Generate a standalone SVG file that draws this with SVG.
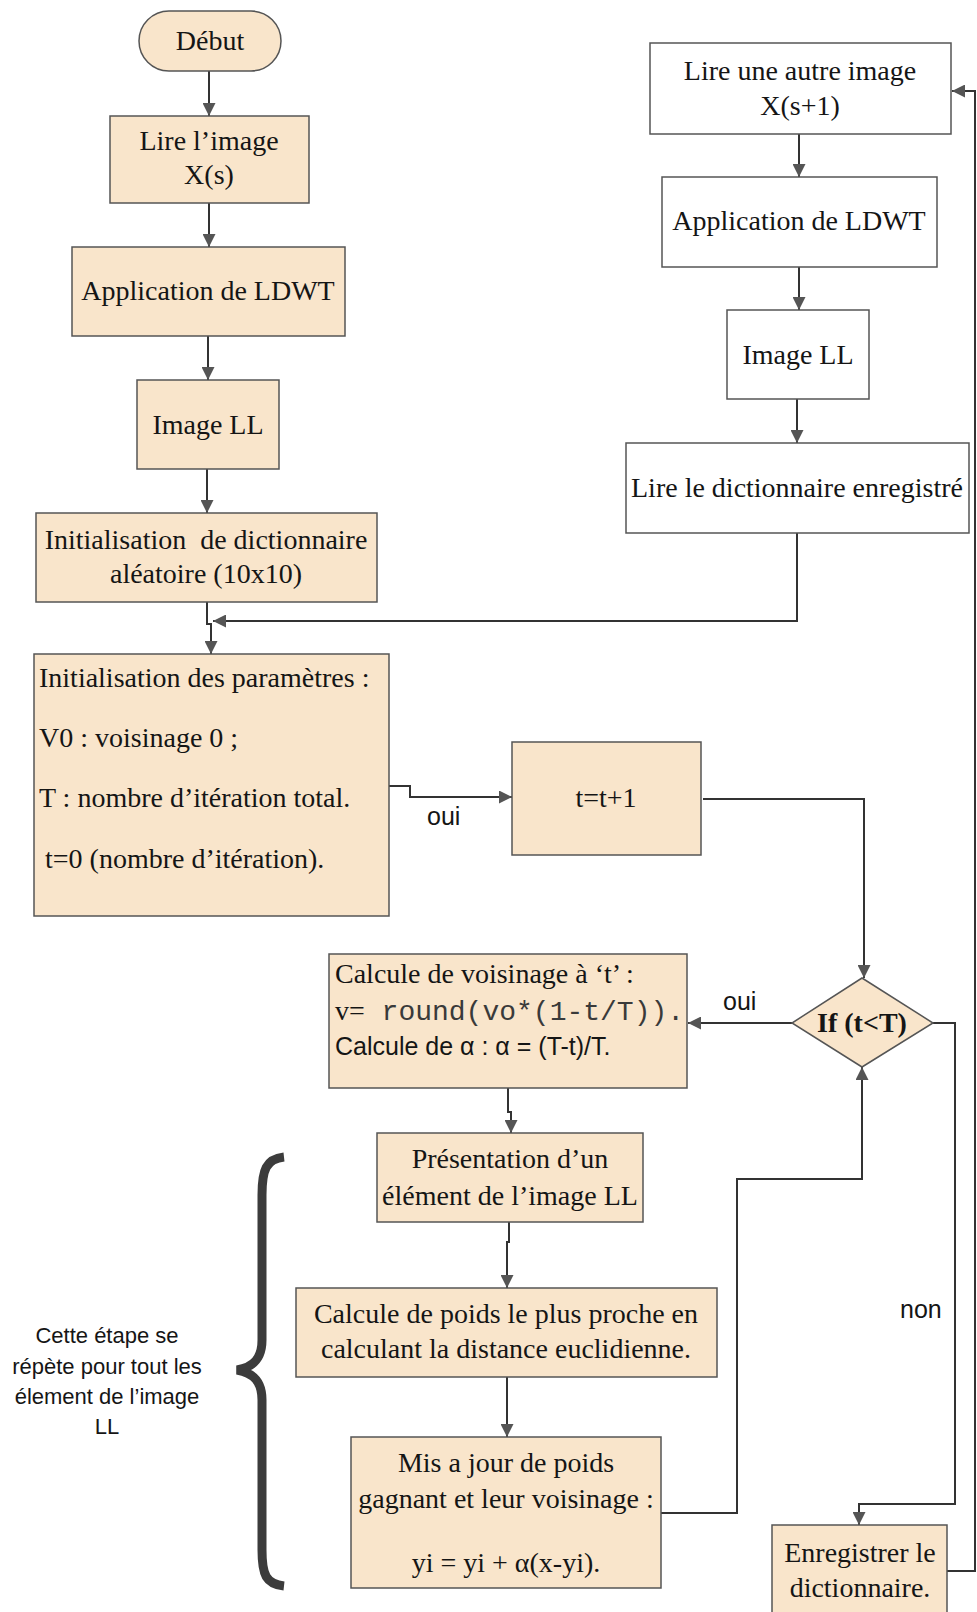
<svg xmlns="http://www.w3.org/2000/svg" width="977" height="1612" viewBox="0 0 977 1612">
  <defs>
    <marker id="arrow" viewBox="0 0 13 13" refX="13" refY="6.5" markerWidth="13" markerHeight="13" markerUnits="userSpaceOnUse" orient="auto">
      <path d="M0,0 L13,6.5 L0,13 Z" fill="#555"/>
    </marker>
    <style>
      .box { fill: #f9e5cb; stroke: #555; stroke-width: 1.5; }
      .wbox { fill: #ffffff; stroke: #555; stroke-width: 1.5; }
      .t { font-family: "Liberation Serif", "Times New Roman", serif; font-size: 28px; fill: #151515; }
      .c { text-anchor: middle; }
      .b { font-weight: bold; }
      .mono { font-family: "Liberation Mono", "Courier New", monospace; font-size: 28px; fill: #3a3a3a; }
      .sans { font-family: "Liberation Sans", Arial, sans-serif; fill: #151515; }
      .conn { fill: none; stroke: #333; stroke-width: 2; }
      .arr { marker-end: url(#arrow); }
    </style>
  </defs>

  <rect width="977" height="1612" fill="#ffffff"/>

  <!-- connectors -->
  <g id="connectors">
    <path class="conn arr" d="M209,71 V116"/>
    <path class="conn arr" d="M209,203 V247"/>
    <path class="conn arr" d="M208,336 V380"/>
    <path class="conn arr" d="M207,469 V513"/>
    <path class="conn arr" d="M207,602 V624 H211 V654"/>
    <path class="conn arr" d="M797,533 V621 H213"/>
    <path class="conn arr" d="M799,134 V177"/>
    <path class="conn arr" d="M799,267 V310"/>
    <path class="conn arr" d="M797,399 V443"/>
    <path class="conn arr" d="M389,786 H410 V797 H512"/>
    <path class="conn arr" d="M703,799 H864 V978"/>
    <path class="conn arr" d="M792,1023 H688"/>
    <path class="conn arr" d="M933,1023 H955 V1504 H859 V1525"/>
    <path class="conn arr" d="M508,1088 V1112 H511 V1133"/>
    <path class="conn arr" d="M509,1222 V1242 H507 V1288"/>
    <path class="conn arr" d="M507,1377 V1437"/>
    <path class="conn arr" d="M661,1513 H737 V1179 H862 V1067"/>
    <path class="conn arr" d="M947,1571 H975 V91 H952"/>
  </g>

  <!-- edge labels -->
  <g id="labels">
    <text class="sans" x="427" y="825" font-size="25">oui</text>
    <text class="sans" x="723" y="1010" font-size="25">oui</text>
    <text class="sans" x="900" y="1318" font-size="25">non</text>
  </g>

  <!-- left column -->
  <g id="debut">
    <rect class="box" x="139" y="11" width="142" height="60" rx="30" ry="30"/>
    <text class="t c" x="210" y="50">Début</text>
  </g>
  <g id="lire-image">
    <rect class="box" x="110" y="116" width="199" height="87"/>
    <text class="t c" x="209" y="150">Lire l’image</text>
    <text class="t c" x="209" y="184">X(s)</text>
  </g>
  <g id="ldwt-1">
    <rect class="box" x="72" y="247" width="273" height="89"/>
    <text class="t c" x="208" y="300">Application de LDWT</text>
  </g>
  <g id="image-ll-1">
    <rect class="box" x="137" y="380" width="142" height="89"/>
    <text class="t c" x="208" y="434">Image LL</text>
  </g>
  <g id="init-dict">
    <rect class="box" x="36" y="513" width="341" height="89"/>
    <text class="t c" x="206" y="549" style="white-space:pre">Initialisation  de dictionnaire</text>
    <text class="t c" x="206" y="583">aléatoire (10x10)</text>
  </g>
  <g id="init-params">
    <rect class="box" x="34" y="654" width="355" height="262"/>
    <text class="t" x="39" y="687">Initialisation des paramètres :</text>
    <text class="t" x="39" y="747">V0 : voisinage 0 ;</text>
    <text class="t" x="39" y="807">T : nombre d’itération total.</text>
    <text class="t" x="45" y="868">t=0 (nombre d’itération).</text>
  </g>

  <!-- right column -->
  <g id="lire-autre">
    <rect class="wbox" x="650" y="43" width="301" height="91"/>
    <text class="t c" x="800" y="80">Lire une autre image</text>
    <text class="t c" x="800" y="115">X(s+1)</text>
  </g>
  <g id="ldwt-2">
    <rect class="wbox" x="662" y="177" width="275" height="90"/>
    <text class="t c" x="799" y="230">Application de LDWT</text>
  </g>
  <g id="image-ll-2">
    <rect class="wbox" x="727" y="310" width="142" height="89"/>
    <text class="t c" x="798" y="364">Image LL</text>
  </g>
  <g id="lire-dict">
    <rect class="wbox" x="626" y="443" width="343" height="90"/>
    <text class="t c" x="797" y="497">Lire le dictionnaire enregistré</text>
  </g>

  <!-- loop -->
  <g id="increment">
    <rect class="box" x="512" y="742" width="189" height="113"/>
    <text class="t c" x="606" y="807">t=t+1</text>
  </g>
  <g id="condition">
    <path class="box" d="M862,978 L933,1023 L862,1067 L792,1023 Z"/>
    <text class="t c b" x="862" y="1032">If (t&lt;T)</text>
  </g>
  <g id="calcul-voisinage">
    <rect class="box" x="329" y="954" width="358" height="134"/>
    <text class="t" x="335" y="983">Calcule de voisinage à ‘t’ :</text>
    <text x="335" y="1020"><tspan class="t">v=</tspan><tspan class="mono" style="white-space:pre"> round(vo*(1-t/T)).</tspan></text>
    <text class="sans" x="335" y="1055" font-size="25">Calcule de α : α = (T-t)/T.</text>
  </g>
  <g id="presentation">
    <rect class="box" x="377" y="1133" width="266" height="89"/>
    <text class="t c" x="510" y="1168">Présentation d’un</text>
    <text class="t c" x="510" y="1205">élément de l’image LL</text>
  </g>
  <g id="poids-proche">
    <rect class="box" x="296" y="1288" width="421" height="89"/>
    <text class="t c" x="506" y="1323">Calcule de poids le plus proche en</text>
    <text class="t c" x="506" y="1358">calculant la distance euclidienne.</text>
  </g>
  <g id="mise-a-jour">
    <rect class="box" x="351" y="1437" width="310" height="151"/>
    <text class="t c" x="506" y="1472">Mis a jour de poids</text>
    <text class="t c" x="506" y="1508">gagnant et leur voisinage :</text>
    <text class="t c" x="506" y="1572">yi = yi + α(x-yi).</text>
  </g>
  <g id="enregistrer">
    <rect class="box" x="772" y="1525" width="175" height="100"/>
    <text class="t c" x="860" y="1562">Enregistrer le</text>
    <text class="t c" x="860" y="1597">dictionnaire.</text>
  </g>

  <!-- repetition brace and note -->
  <g id="repetition">
    <path d="M284,1157 C266,1159 262,1170 262,1195 L262,1340 C262,1358 254,1367 237,1370 C254,1373 262,1382 262,1400 L262,1550 C262,1575 266,1584 284,1586" fill="none" stroke="#3c3c3c" stroke-width="9"/>
    <text class="sans c" font-size="22" x="107" y="1343">Cette étape se</text>
    <text class="sans c" font-size="22" x="107" y="1374">répète pour tout les</text>
    <text class="sans c" font-size="22" x="107" y="1404">élement de l’image</text>
    <text class="sans c" font-size="22" x="107" y="1434">LL</text>
  </g>
</svg>
